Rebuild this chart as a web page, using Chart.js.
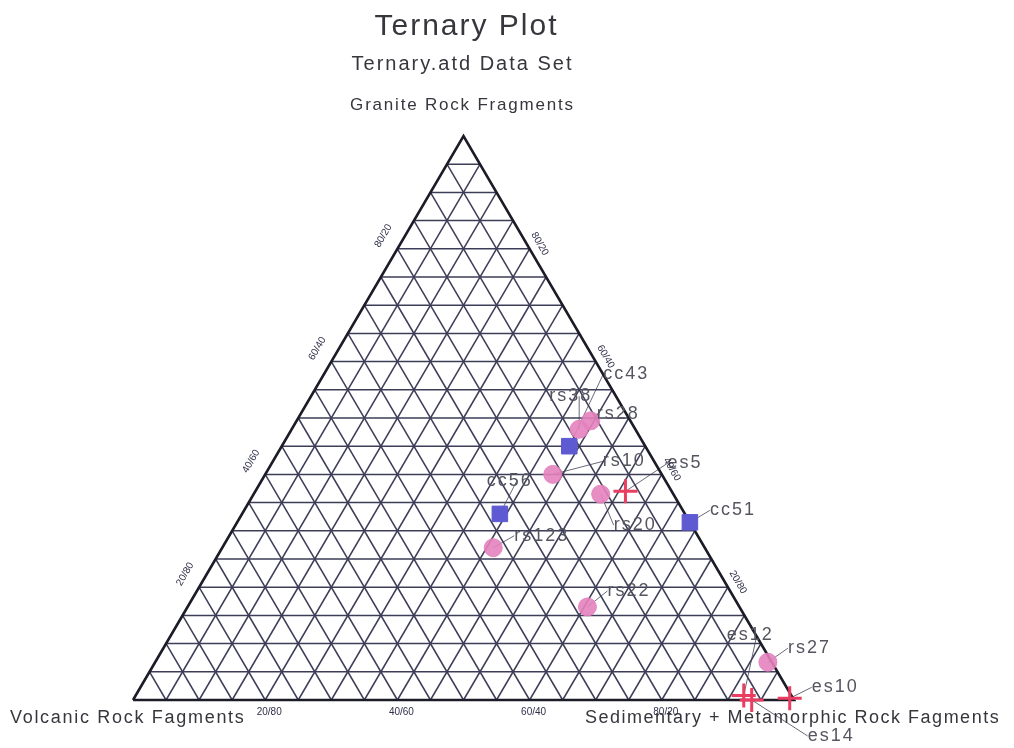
<!DOCTYPE html>
<html>
<head>
<meta charset="utf-8">
<script src="https://cdn.jsdelivr.net/npm/chart.js@4.4.1/dist/chart.umd.min.js"></script>
<style>
    body { margin: 0; background: #fff; }
    #wrap { width: 1014px; height: 748px; }
</style>
</head>
<body>
<div id="wrap"><canvas id="chart"></canvas></div>
<script>
// ternary data: granite (top), sedimentary+metamorphic (right), volcanic (left), in %
const rsLabels = ['rs38', 'rs28', 'rs10', 'rs20', 'rs123', 'rs22', 'rs27'];
const rsGranite = [48, 49.5, 40, 36.5, 27, 16.5, 6.7];
const rsSediment = [43.5, 44.5, 43.5, 52.5, 41, 60.5, 92.7];
const rsVolcanic = [8.5, 6, 16.5, 11, 32, 23, 0.6];

const ccLabels = ['cc43', 'cc56', 'cc51'];
const ccGranite = [45, 33, 31.5];
const ccSediment = [43.5, 39, 68.5];
const ccVolcanic = [11.5, 28, 0];

const esLabels = ['es5', 'es12', 'es14', 'es10'];
const esGranite = [37, 0.8, 0, 0.3];
const esSediment = [56, 92, 93.6, 99.2];
const esVolcanic = [7, 7.2, 6.4, 0.5];

const edgeTicks = [20, 40, 60, 80];
const gridStep = 5;

const apexTitle = 'Granite Rock Fragments';
const leftTitle = 'Volcanic Rock Fagments';
const rightTitle = 'Sedimentary + Metamorphic Rock Fagments';

// where each point label sits, relative to its marker (px)
const labelOffsets = {
    rs38: [-30, -33], rs28: [6, -7], rs10: [50, -13], rs20: [13, 31],
    rs123: [21, -12], rs22: [20, -16], rs27: [20, -14],
    cc43: [34, -72], cc56: [-13, -33], cc51: [20, -12],
    es5: [42, -28], es12: [-17, -60], es14: [56, 36], es10: [22, -11]
};

const H = Math.sqrt(3) / 2;
const FONT = '"Liberation Sans", Arial, sans-serif';

function toXY(g, s, v) {
    const sum = g + s + v;
    g = g / sum * 100;
    s = s / sum * 100;
    return {x: s + g / 2, y: g * H};
}

function points(labels, g, s, v) {
    return labels.map((l, i) => ({...toXY(g[i], s[i], v[i]), label: l}));
}

const gridColor = '#3d3d58';
const gridSets = [];
for (let k = gridStep; k < 100; k += gridStep) {
    // granite = k (horizontal)
    gridSets.push([toXY(k, 100 - k, 0), toXY(k, 0, 100 - k)]);
    // sediment = k
    gridSets.push([toXY(0, k, 100 - k), toXY(100 - k, k, 0)]);
    // volcanic = k
    gridSets.push([toXY(0, 100 - k, k), toXY(100 - k, 0, k)]);
}

const lineSets = gridSets.map(pts => ({
    type: 'line',
    data: pts,
    borderColor: gridColor,
    borderWidth: 1.5,
    pointRadius: 0,
    fill: false,
    order: 3
}));

lineSets.push({
    type: 'line',
    data: [toXY(0, 0, 100), toXY(100, 0, 0), toXY(0, 100, 0), toXY(0, 0, 100)],
    borderColor: '#1c1c28',
    borderWidth: 2.6,
    pointRadius: 0,
    fill: false,
    order: 2
});

const markerSets = [
    {
        data: points(rsLabels, rsGranite, rsSediment, rsVolcanic),
        pointStyle: 'circle',
        pointRadius: 9,
        backgroundColor: 'rgba(228, 130, 190, 0.9)',
        borderColor: 'rgba(228, 130, 190, 0.9)',
        order: 1
    },
    {
        data: points(ccLabels, ccGranite, ccSediment, ccVolcanic),
        pointStyle: 'rect',
        pointRadius: 11,
        backgroundColor: '#5d5ad2',
        borderColor: '#5d5ad2',
        order: 1
    },
    {
        data: points(esLabels, esGranite, esSediment, esVolcanic),
        pointStyle: 'cross',
        pointRadius: 12,
        borderWidth: 3,
        backgroundColor: '#ea3d62',
        borderColor: '#ea3d62',
        order: 0
    }
];

function spacedText(ctx, text, x, y, font, spacing) {
    ctx.save();
    ctx.font = font;
    ctx.letterSpacing = spacing + 'px';
    ctx.fillText(text, x, y);
    ctx.restore();
}

const ternaryDecor = {
    id: 'ternaryDecor',
    beforeDatasetsDraw(chart) {
        const ctx = chart.ctx;
        ctx.save();
        ctx.strokeStyle = '#6a6a78';
        ctx.lineWidth = 1;
        chart.data.datasets.forEach((ds, di) => {
            if (!ds.data[0] || !ds.data[0].label) return;
            chart.getDatasetMeta(di).data.forEach((el, i) => {
                const off = labelOffsets[ds.data[i].label];
                ctx.beginPath();
                ctx.moveTo(el.x, el.y);
                ctx.lineTo(el.x + off[0] + (off[0] < 0 ? 30 : 0), el.y + off[1]);
                ctx.stroke();
            });
        });
        ctx.restore();
    },
    afterDatasetsDraw(chart) {
        const ctx = chart.ctx;
        const xs = chart.scales.x, ys = chart.scales.y;
        const px = p => [xs.getPixelForValue(p.x), ys.getPixelForValue(p.y)];
        ctx.save();

        // point labels
        ctx.fillStyle = '#555560';
        ctx.textBaseline = 'middle';
        ctx.textAlign = 'left';
        chart.data.datasets.forEach((ds, di) => {
            if (!ds.data[0] || !ds.data[0].label) return;
            chart.getDatasetMeta(di).data.forEach((el, i) => {
                const lab = ds.data[i].label;
                const off = labelOffsets[lab];
                spacedText(ctx, lab, el.x + off[0], el.y + off[1], '18px ' + FONT, 2);
            });
        });

        // edge tick labels
        ctx.font = '10px ' + FONT;
        ctx.fillStyle = '#30304a';
        ctx.textAlign = 'center';
        edgeTicks.forEach(t => {
            // left edge (granite / volcanic)
            let [x, y] = px(toXY(t, 0, 100 - t));
            ctx.save();
            ctx.translate(x - 14, y - 13);
            ctx.rotate(-Math.PI / 3);
            ctx.fillText(t + '/' + (100 - t), 0, 0);
            ctx.restore();
            // right edge (granite / sediment)
            [x, y] = px(toXY(t, 100 - t, 0));
            ctx.save();
            ctx.translate(x + 10, y - 5);
            ctx.rotate(Math.PI / 3);
            ctx.fillText(t + '/' + (100 - t), 0, 0);
            ctx.restore();
            // bottom edge (sediment / volcanic)
            [x, y] = px(toXY(0, t, 100 - t));
            ctx.fillText(t + '/' + (100 - t), x + 4, y + 12);
        });

        // titles and corner names
        const apex = px(toXY(100, 0, 0));
        const left = px(toXY(0, 0, 100));
        ctx.fillStyle = '#36363c';
        ctx.textAlign = 'center';
        spacedText(ctx, 'Ternary Plot', apex[0] + 3, 27, '30px ' + FONT, 2);
        spacedText(ctx, 'Ternary.atd Data Set', apex[0] - 1, 64, '20px ' + FONT, 2);
        spacedText(ctx, apexTitle, apex[0] - 1, 105, '17px ' + FONT, 1.8);

        ctx.textAlign = 'left';
        spacedText(ctx, leftTitle, 10, left[1] + 18, '18px ' + FONT, 1.7);
        spacedText(ctx, rightTitle, 585, left[1] + 18, '18px ' + FONT, 1.5);
        ctx.restore();
    }
};

new Chart(document.getElementById('chart'), {
    type: 'scatter',
    data: {
        datasets: [...markerSets.map(d => ({...d, clip: false})), ...lineSets.map(d => ({...d, clip: false}))]
    },
    options: {
        responsive: true,
        maintainAspectRatio: false,
        animation: false,
        layout: {padding: {left: 133, right: 220, top: 136, bottom: 48}},
        plugins: {legend: {display: false}, tooltip: {enabled: false}},
        scales: {
            x: {type: 'linear', min: 0, max: 100, display: false},
            y: {type: 'linear', min: 0, max: 100 * H, display: false}
        }
    },
    plugins: [ternaryDecor]
});
</script>
</body>
</html>
